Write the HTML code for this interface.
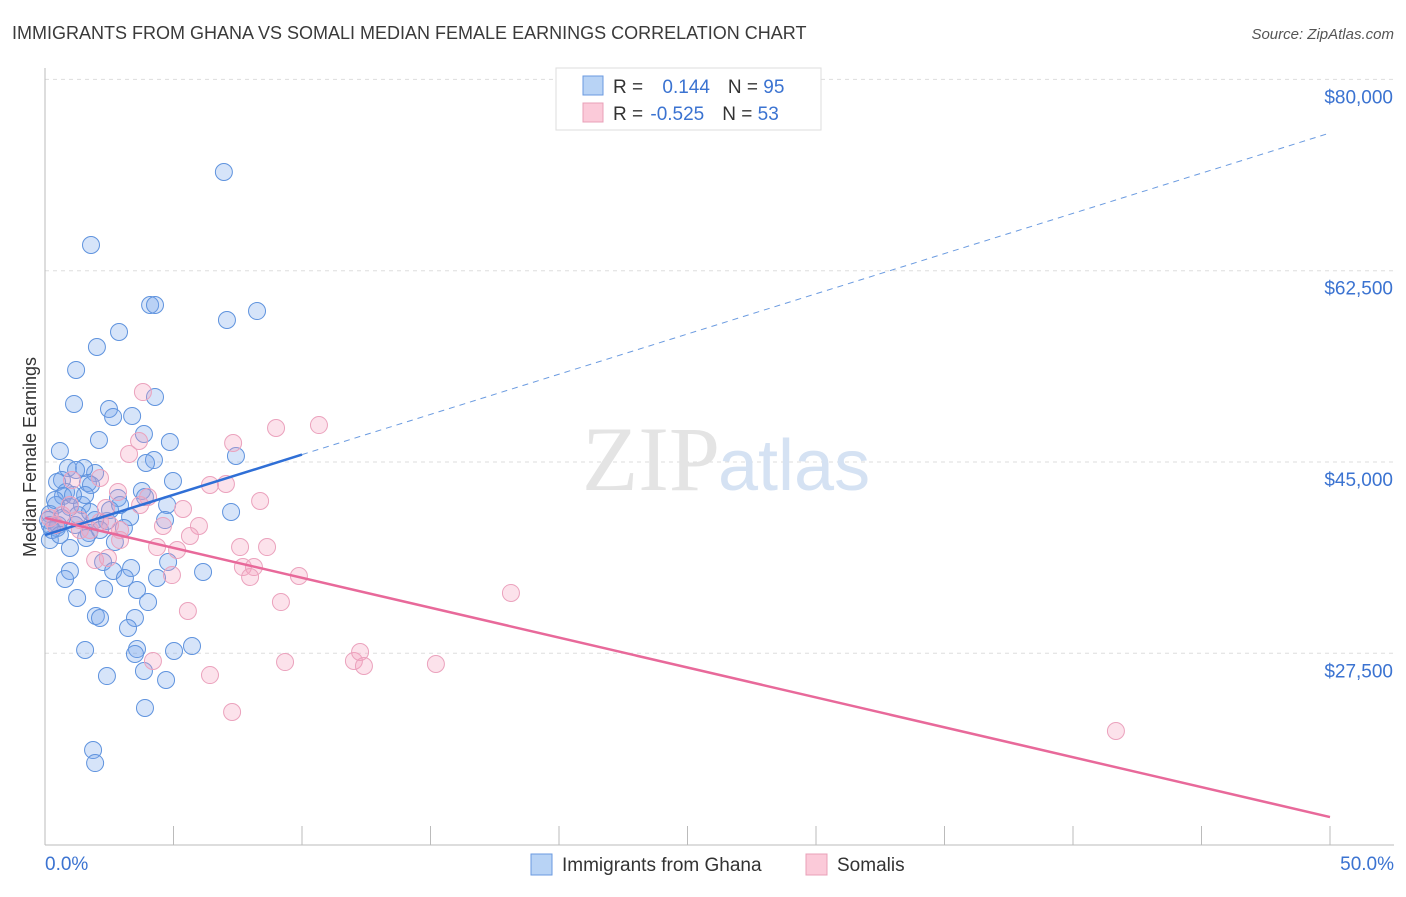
<!DOCTYPE html>
<html><head><meta charset="utf-8"><style>
body{margin:0;background:#fff;font-family:"Liberation Sans",sans-serif;}
</style></head><body>
<svg id="chart" width="1406" height="892" xmlns="http://www.w3.org/2000/svg" style="font-family:'Liberation Sans',sans-serif">
<text x="12" y="39" font-size="18" fill="#3a3a3a">IMMIGRANTS FROM GHANA VS SOMALI MEDIAN FEMALE EARNINGS CORRELATION CHART</text>
<text x="1394" y="39" font-size="15" fill="#555" font-style="italic" text-anchor="end">Source: ZipAtlas.com</text>
<g id="grid"></g>
<text x="720" y="490" font-size="92" fill="#e4e4e4" text-anchor="end" font-family="Liberation Serif">ZIP</text>
<text x="718" y="490" font-size="72" fill="#d5e2f3">atlas</text>
<text x="36" y="457" font-size="18" fill="#333" text-anchor="middle" transform="rotate(-90 36 457)">Median Female Earnings</text>
<g id="pts"></g>
<g id="lines"></g>
<g>
<rect x="556" y="68" width="265" height="62" fill="#fff" stroke="#ddd"/>
<rect x="583" y="76" width="20" height="19" fill="#b8d3f5" stroke="#6a9ae0"/>
<rect x="583" y="103" width="20" height="19" fill="#fbcad9" stroke="#e8a0b8"/>
<text x="613" y="93" font-size="19" fill="#333">R = <tspan fill="#3b73d1" dx="14">0.144</tspan><tspan dx="18" fill="#333">N = </tspan><tspan fill="#3b73d1">95</tspan></text>
<text x="613" y="120" font-size="19" fill="#333">R = <tspan fill="#3b73d1" dx="2">-0.525</tspan><tspan dx="18" fill="#333">N = </tspan><tspan fill="#3b73d1">53</tspan></text>
</g>
<g>
<rect x="531" y="854" width="21" height="21" fill="#b8d3f5" stroke="#6a9ae0"/>
<text x="562" y="871" font-size="19" fill="#333">Immigrants from Ghana</text>
<rect x="806" y="854" width="21" height="21" fill="#fbcad9" stroke="#e8a0b8"/>
<text x="837" y="871" font-size="19" fill="#333">Somalis</text>
</g>
</svg>
<script>
const yTicks=[80000,62500,45000,27500];
const yTickLabels=["$80,000","$62,500","$45,000","$27,500"];
const xTickLabels=["0.0%","50.0%"];
const ghanaX=[6.96,1.79,4.09,4.28,8.25,7.08,2.88,2.02,1.21,1.13,4.28,2.49,2.65,3.39,3.85,2.10,4.86,0.58,4.24,3.93,7.43,0.89,1.95,1.52,1.21,0.66,4.98,1.67,0.47,0.82,1.79,3.77,0.70,2.84,3.89,0.43,0.97,1.44,4.75,7.24,0.19,0.66,1.28,1.95,2.41,3.31,3.07,0.19,0.47,1.71,1.60,2.72,0.97,2.26,2.65,3.35,4.79,6.15,3.11,4.36,0.97,0.78,3.58,2.30,1.25,4.01,1.98,2.14,3.50,3.23,1.56,3.58,3.50,5.02,5.72,2.41,3.85,4.71,3.89,1.87,1.95,0.19,0.12,0.39,2.14,0.51,0.27,2.53,1.56,0.58,1.17,4.67,2.92,1.09,1.75];
const ghanaY=[71530,64850,59360,59360,58810,57990,56890,55520,53420,50310,50950,49850,49120,49210,47560,47010,46830,46010,45180,44910,45550,44450,43990,44450,44270,43350,43260,43080,43170,42260,42900,42350,41890,41710,41800,41070,40880,41070,41070,40430,40240,39880,40150,39690,39600,39970,38960,39240,38960,38500,38050,37680,37130,35850,35030,35300,35850,34940,34390,34390,35030,34300,33290,33380,32560,32190,30910,30730,30730,29810,27800,27890,27440,27710,28170,25420,25880,25060,22500,18650,17460,37860,39690,41520,38780,39240,38780,40610,41980,38320,39240,39690,41070,41980,40430];
const somaliX=[3.81,10.66,8.99,3.66,7.32,3.27,7.04,8.37,1.05,2.84,4.01,5.37,3.70,2.37,4.59,5.99,1.36,2.14,5.64,2.92,1.75,4.36,5.14,7.59,8.64,1.95,2.45,7.70,8.13,7.98,4.94,9.88,18.13,9.18,5.56,4.20,9.34,12.02,12.26,12.41,15.21,6.42,7.28,41.67,0.19,0.39,0.66,0.97,1.36,2.53,2.92,2.14,6.42];
const somaliY=[51400,48380,48110,46920,46740,45730,42990,41430,43350,42260,41800,40700,41070,40790,39150,39150,39690,39510,38230,38780,38780,37220,36950,37220,37220,36030,36220,35390,35390,34480,34660,34570,33020,32190,31370,26800,26700,26800,27620,26340,26520,25510,22130,20390,39880,39240,40150,41070,38780,39240,37860,43540,42900];
const ghanaTrend=[38320,75100]; // value at 0% and 50%
const somaliTrend=[39880,12520];
const ghanaSolidEnd=10;

const NS="http://www.w3.org/2000/svg";
const X0=45,X1=1330;
function sx(p){return X0+(p/50)*(X1-X0);}
function sy(v){return 462-(v-45000)*191.3/17500;}
function mk(tag,attrs,parent){const e=document.createElementNS(NS,tag);for(const k in attrs)e.setAttribute(k,attrs[k]);parent.appendChild(e);return e;}
const grid=document.getElementById('grid');
yTicks.forEach((t,i)=>{
  const l=mk('line',{x1:45,x2:1394,y1:sy(t),y2:sy(t),stroke:'#ddd','stroke-dasharray':'4,4'},grid);
  
  
  const tx=mk('text',{x:1393,y:sy(t)+24,'font-size':19,fill:'#3b73d1','text-anchor':'end'},grid);
  tx.textContent=yTickLabels[i];
  
  
});
const ax=mk('line',{x1:45,x2:45,y1:68,y2:845,stroke:'#bbb'},grid);


const bx=mk('line',{x1:45,x2:1394,y1:845,y2:845,stroke:'#bbb'},grid);


for(let i=0;i<=10;i++){
  const t=mk('line',{x1:sx(i*5),x2:sx(i*5),y1:826,y2:845,stroke:'#bbb'},grid);
  
  
}
[[0,'start',45],[50,'end',1394]].forEach((d,i)=>{
  const t=mk('text',{x:d[2],y:870,'font-size':19,fill:'#3b73d1','text-anchor':d[1]},grid);
  t.textContent=xTickLabels[i];
  
  
});
const pts=document.getElementById('pts');
ghanaX.forEach((x,i)=>{
  const c=mk('circle',{cx:sx(x),cy:sy(ghanaY[i]),r:8.5,fill:'rgba(120,165,235,0.3)',stroke:'#5f93de','stroke-width':1},pts);
  
  
});
somaliX.forEach((x,i)=>{
  const c=mk('circle',{cx:sx(x),cy:sy(somaliY[i]),r:8.5,fill:'rgba(245,160,190,0.3)',stroke:'#eba2bd','stroke-width':1},pts);
  
  
});
const lines=document.getElementById('lines');
function gv(p){return ghanaTrend[0]+(ghanaTrend[1]-ghanaTrend[0])*p/50;}
const l1=mk('line',{x1:sx(0),y1:sy(gv(0)),x2:sx(ghanaSolidEnd),y2:sy(gv(ghanaSolidEnd)),stroke:'#2f6fd6','stroke-width':2.5},lines);


const l2=mk('line',{x1:sx(ghanaSolidEnd),y1:sy(gv(ghanaSolidEnd)),x2:sx(50),y2:sy(gv(50)),stroke:'#6b9be0','stroke-width':1,'stroke-dasharray':'6,5'},lines);


const l3=mk('line',{x1:sx(0),y1:sy(somaliTrend[0]),x2:sx(50),y2:sy(somaliTrend[1]),stroke:'#e8699a','stroke-width':2.5},lines);


</script>
</body></html>
